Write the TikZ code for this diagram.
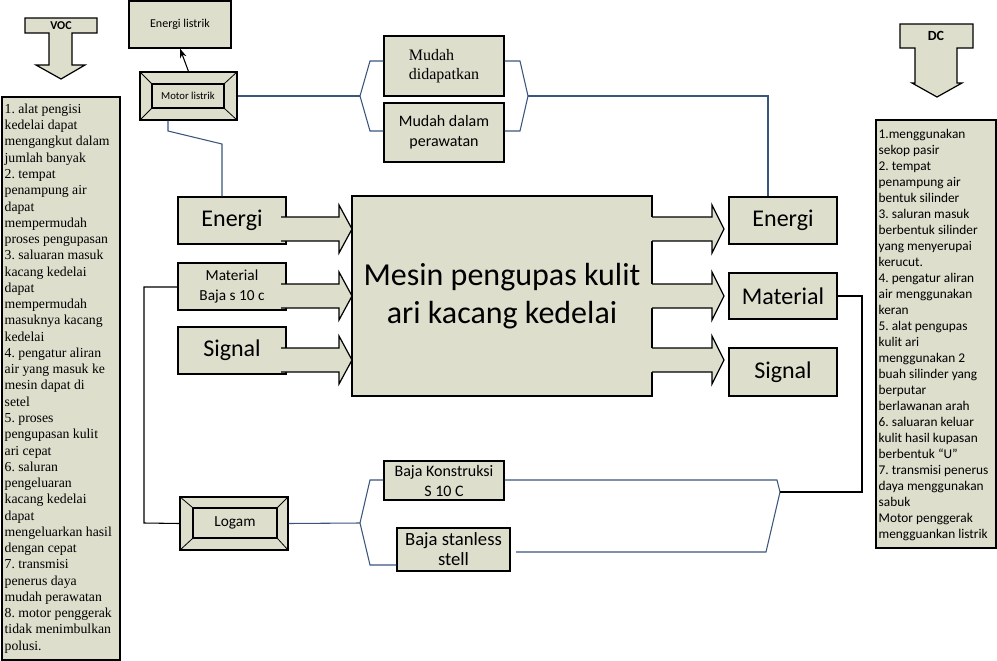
\documentclass[tikz,border=0pt]{standalone}
\usepackage{fontspec}
\setmainfont{Carlito}
\newfontfamily\tmsfont{Liberation Serif}
\usetikzlibrary{arrows.meta}
\newdimen\pxu \pxu=0.75pt
\definecolor{boxfill}{RGB}{221,222,204}
\definecolor{linkblue}{RGB}{59,85,125}
\frenchspacing
\begin{document}
\begin{tikzpicture}[x=0.75pt,y=-0.75pt,
  box/.style={draw=black, line width=0.9pt, fill=boxfill, inner sep=0pt, align=center},
  blink/.style={draw=linkblue, line width=0.8pt},
  klink/.style={draw=black, line width=0.8pt},
  shapeline/.style={draw=black, line width=0.9pt, line join=miter},
  listtext/.style={align=left, inner sep=0pt, anchor=west}
]
\useasboundingbox (0,0) rectangle (997,661);

% ---------- VOC and DC arrows ----------
\filldraw[fill=boxfill, shapeline] (25,18) -- (97,18) -- (97,33) -- (72,33) -- (72,65) -- (85,65) -- (61,79) -- (36,65) -- (49,65) -- (49,33) -- (25,33) -- cycle;
\node[font=\bfseries\fontsize{9pt}{10pt}\selectfont] (voc) at (61,26) {VOC};
\filldraw[fill=boxfill, shapeline] (900,24) -- (973,24) -- (973,48) -- (957,48) -- (957,83) -- (962,83) -- (937,97) -- (912,83) -- (915,83) -- (915,48) -- (900,48) -- cycle;
\node[font=\bfseries\fontsize{10.5pt}{12pt}\selectfont] (dc) at (936,36) {DC};

% ---------- list boxes ----------
\node[box, minimum width=118\pxu, minimum height=563\pxu] (voclist) at (61,378.5) {};
\node[listtext, font=\tmsfont\fontsize{10.3pt}{12.2pt}\selectfont] (voctext) at ([xshift=3\pxu]voclist.west) {%
1. alat pengisi\\kedelai dapat\\mengangkut dalam\\jumlah banyak\\2. tempat\\penampung air\\dapat\\mempermudah\\proses pengupasan\\3. saluaran masuk\\kacang kedelai\\dapat\\mempermudah\\masuknya kacang\\kedelai\\4. pengatur aliran\\air yang masuk ke\\mesin dapat di\\setel\\5. proses\\pengupasan kulit\\ari cepat\\6. saluran\\pengeluaran\\kacang kedelai\\dapat\\mengeluarkan hasil\\dengan cepat\\7. transmisi\\penerus daya\\mudah perawatan\\8. motor penggerak\\tidak menimbulkan\\polusi.};

\node[box, minimum width=120\pxu, minimum height=428\pxu] (dclist) at (936,334) {};
\node[listtext, font=\fontsize{10pt}{12pt}\selectfont] (dctext) at ([xshift=3\pxu,yshift=-1\pxu]dclist.west) {%
1.menggunakan\\sekop pasir\\2. tempat\\penampung air\\bentuk silinder\\3. saluran masuk\\berbentuk silinder\\yang menyerupai\\kerucut.\\4. pengatur aliran\\air menggunakan\\keran\\5. alat pengupas\\kulit ari\\menggunakan 2\\buah silinder yang\\berputar\\berlawanan arah\\6. saluaran keluar\\kulit hasil kupasan\\berbentuk “U”\\7. transmisi penerus\\daya menggunakan\\sabuk\\Motor penggerak\\mengguankan listrik};

% ---------- top boxes ----------
\node[box, minimum width=102\pxu, minimum height=47\pxu, font=\fontsize{9pt}{11pt}\selectfont] (elis) at (180,24.5) {Energi listrik};
\node[box, minimum width=97\pxu, minimum height=48\pxu] (mot) at (188.5,96) {};
\node[box, minimum width=72\pxu, minimum height=24\pxu, font=\fontsize{8pt}{10pt}\selectfont] (motin) at (188,96) {Motor listrik};
\draw[shapeline, line width=0.6pt] (mot.north west) -- (motin.north west) (mot.north east) -- (motin.north east)
  (mot.south west) -- (motin.south west) (mot.south east) -- (motin.south east);
\draw[klink, -{Stealth[length=7pt,width=5pt]}] (mot.north) -- (elis.south);

\node[box, minimum width=120\pxu, minimum height=60\pxu, font=\tmsfont\fontsize{12pt}{13.8pt}\selectfont, align=left] (md1) at (444,66) {Mudah\\didapatkan};
\node[box, minimum width=120\pxu, minimum height=59\pxu, font=\fontsize{12pt}{15pt}\selectfont] (md2) at (444,132.5) {Mudah dalam\\perawatan};

% ---------- input boxes ----------
\node[box, minimum width=108\pxu, minimum height=47\pxu, font=\fontsize{18pt}{21pt}\selectfont] (ein) at (232,220.5) {Energi};
\node[box, minimum width=108\pxu, minimum height=47\pxu, font=\fontsize{11.5pt}{15pt}\selectfont] (min) at (232,286.5) {Material\\Baja s 10 c};
\node[box, minimum width=108\pxu, minimum height=47\pxu, font=\fontsize{18pt}{21pt}\selectfont] (sin) at (232,350.5) {Signal};

% ---------- main box ----------
\node[box, minimum width=300\pxu, minimum height=200\pxu, font=\fontsize{24pt}{29pt}\selectfont] (main) at (502,296) {Mesin pengupas kulit\\ari kacang kedelai};

% ---------- output boxes ----------
\node[box, minimum width=108\pxu, minimum height=47\pxu, font=\fontsize{18pt}{21pt}\selectfont] (eout) at (783,220.5) {Energi};
\node[box, minimum width=108\pxu, minimum height=46\pxu, font=\fontsize{18pt}{21pt}\selectfont] (mout) at (783,296) {Material};
\node[box, minimum width=108\pxu, minimum height=48\pxu, font=\fontsize{18pt}{21pt}\selectfont] (sout) at (783,372) {Signal};

% ---------- block arrows ----------
\foreach \yc in {229,296,360}{
  \fill[boxfill] (281,\yc-12) -- (339,\yc-12) -- (339,\yc-24) -- (352,\yc) -- (339,\yc+24) -- (339,\yc+12) -- (281,\yc+12) -- cycle;
  \draw[shapeline] (281,\yc-12) -- (339,\yc-12) -- (339,\yc-24) -- (352,\yc) -- (339,\yc+24) -- (339,\yc+12) -- (281,\yc+12);
  \fill[boxfill] (648,\yc-12) -- (712,\yc-12) -- (712,\yc-24) -- (724,\yc) -- (712,\yc+24) -- (712,\yc+12) -- (648,\yc+12) -- cycle;
  \draw[shapeline] (652,\yc-12) -- (712,\yc-12) -- (712,\yc-24) -- (724,\yc) -- (712,\yc+24) -- (712,\yc+12) -- (652,\yc+12);
}

% ---------- bottom boxes ----------
\node[box, minimum width=120\pxu, minimum height=39\pxu, font=\fontsize{12pt}{15pt}\selectfont] (bk) at (444,480.5) {Baja Konstruksi\\S 10 C};
\node[box, minimum width=113\pxu, minimum height=43\pxu, font=\fontsize{14pt}{15pt}\selectfont] (bs) at (453.5,549.5) {Baja stanless\\stell};
\node[box, minimum width=108\pxu, minimum height=53\pxu] (log) at (234,523.5) {};
\node[box, minimum width=84\pxu, minimum height=30\pxu, font=\fontsize{11.5pt}{14pt}\selectfont] (login) at (235,523) {Logam};
\draw[shapeline, line width=0.6pt] (log.north west) -- (login.north west) (log.north east) -- (login.north east)
  (log.south west) -- (login.south west) (log.south east) -- (login.south east);

% ---------- connector coordinates ----------
\coordinate (c1) at (168,131);
\coordinate (c2) at (222,144);
\coordinate (bl) at (360,96);
\coordinate (a1) at (370,61);
\coordinate (a2) at (370,131);
\coordinate (br) at (528,96);
\coordinate (b1) at (520,61);
\coordinate (b2) at (520,131);
\coordinate (c3) at (768,96);
\coordinate (c4) at (144,287);
\coordinate (c5) at (144,523);
\coordinate (lb) at (360,523);
\coordinate (d1) at (370,480);
\coordinate (d2) at (370,565);
\coordinate (e1) at (777,480);
\coordinate (rb) at (780,492);
\coordinate (e2) at (766,552);
\coordinate (e3) at (516,552);
\coordinate (c6) at (862,296);
\coordinate (c7) at (862,492);

% ---------- connectors ----------
\draw[blink] (mot.south -| c1) -- (c1) -- (c2) -- (ein.north -| c2);
\draw[blink] (mot.east) -- (bl);
\draw[blink] (md1.west |- a1) -- (a1) -- (bl) -- (a2) -- (md2.west |- a2);
\draw[blink] (md1.east |- b1) -- (b1) -- (br) -- (b2) -- (md2.east |- b2);
\draw[blink] (br) -- (c3) -- (eout.north -| c3);
\draw[klink] (min.west |- c4) -- (c4) -- (c5) -- (log.west);
\draw[blink] (log.east) -- (lb);
\draw[blink] (bk.west |- d1) -- (d1) -- (lb) -- (d2) -- (bs.west |- d2);
\draw[blink] (bk.east |- e1) -- (e1) -- (rb) -- (e2) -- (e3);
\draw[klink] (mout.east) -- (c6) -- (c7) -- (rb);
\end{tikzpicture}
\end{document}
